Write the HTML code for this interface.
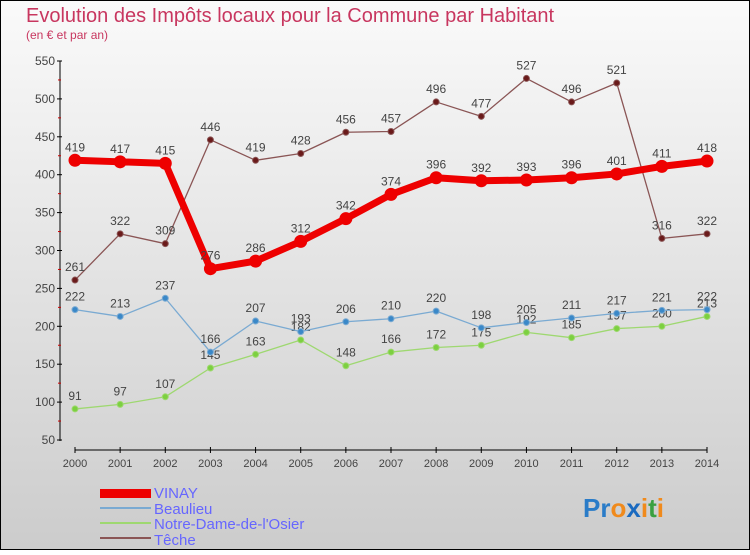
<!DOCTYPE html>
<html><head><meta charset="utf-8"><style>
body{margin:0;width:750px;height:550px;overflow:hidden;font-family:"Liberation Sans",sans-serif}
</style></head><body>
<svg id="chart" width="750" height="550" xmlns="http://www.w3.org/2000/svg">
<defs><linearGradient id="bg" x1="0" y1="0" x2="0" y2="1"><stop offset="0" stop-color="#fafafa"/><stop offset="1" stop-color="#cccccc"/></linearGradient></defs>
<rect x="0.5" y="0.5" width="749" height="549" fill="url(#bg)" stroke="#000"/>
<text x="26" y="22" font-size="20" fill="#c8365f">Evolution des Impôts locaux pour la Commune par Habitant</text>
<text x="26" y="39" font-size="12" fill="#c8365f">(en € et par an)</text>
<g id="axes"></g><g id="series"></g>
<g font-size="15" fill="#6666ff">
<rect x="100" y="489" width="51" height="9" fill="#e00"/>
<text x="154" y="498">VINAY</text>
<line x1="100" y1="508" x2="151" y2="508" stroke="#7aaad2" stroke-width="2"/>
<text x="154" y="514">Beaulieu</text>
<line x1="100" y1="523" x2="151" y2="523" stroke="#9ed870" stroke-width="2"/>
<text x="154" y="529">Notre-Dame-de-l'Osier</text>
<line x1="100" y1="538" x2="151" y2="538" stroke="#8a5555" stroke-width="2"/>
<text x="154" y="545">Têche</text>
</g>
<text x="583" y="517" font-size="26" font-weight="bold"><tspan fill="#2a7cc8">Pr</tspan><tspan fill="#f08a1c">o</tspan><tspan fill="#1a6ac0">x</tspan><tspan fill="#f08a1c">i</tspan><tspan fill="#3aa040">t</tspan><tspan fill="#f08a1c">i</tspan></text>
</svg>
<script>
const years=[2000,2001,2002,2003,2004,2005,2006,2007,2008,2009,2010,2011,2012,2013,2014];
const yTicks=[50,100,150,200,250,300,350,400,450,500,550];
const vinay=[419,417,415,276,286,312,342,374,396,392,393,396,401,411,418];
const beaulieu=[222,213,237,166,207,193,206,210,220,198,205,211,217,221,222];
const notreDame=[91,97,107,145,163,182,148,166,172,175,192,185,197,200,213];
const teche=[261,322,309,446,419,428,456,457,496,477,527,496,521,316,322];
const NS="http://www.w3.org/2000/svg";
const x=i=>75+i*(707-75)/(years.length-1);
const y=v=>440-(v-50)*(440-61)/500;
function mk(t,a,p){const e=document.createElementNS(NS,t);for(const k in a)e.setAttribute(k,a[k]);p.appendChild(e);return e;}
const ax=document.getElementById('axes');
let e=mk('line',{x1:60,y1:61,x2:60,y2:441,stroke:'#000'},ax);


e=mk('line',{x1:75,y1:450,x2:707,y2:450,stroke:'#000'},ax);


yTicks.forEach((v,i)=>{
 mk('line',{x1:57,y1:y(v),x2:62,y2:y(v),stroke:'#000'},ax);
 if(i<yTicks.length-1) mk('line',{x1:58,y1:y(v+25),x2:61,y2:y(v+25),stroke:'#c00'},ax);
 const t=mk('text',{x:55,y:y(v)+4,'text-anchor':'end','font-size':12,fill:'#444'},ax);t.textContent=v;
 
 
});
years.forEach((yr,i)=>{
 mk('line',{x1:x(i),y1:447,x2:x(i),y2:453,stroke:'#000'},ax);
 const t=mk('text',{x:x(i),y:467,'text-anchor':'middle','font-size':11,fill:'#444'},ax);t.textContent=yr;
 
 
});
const sg=document.getElementById('series');
function series(d,name,col,w,r,dot,lab){
 const g=mk('g',{},sg);
 
 
 const l=mk('polyline',{points:d.map((v,i)=>x(i)+','+y(v)).join(' '),fill:'none',stroke:col,'stroke-width':w,'stroke-linejoin':'round'},g);
 
 
 d.forEach((v,i)=>{
  const c=mk('circle',{cx:x(i),cy:y(v),r:r,fill:dot,stroke:col,'stroke-width':1},g);
  
  
  const t=mk('text',{x:x(i),y:y(v)-9,'text-anchor':'middle','font-size':12,fill:'#444'},g);t.textContent=v;
  
  
 });
}
series(teche,'teche','#8a5555',1.3,3,'#6a1a1a');
series(notreDame,'notre-dame','#9ed870',1.3,3,'#7cd040');
series(beaulieu,'beaulieu','#7aaad2',1.3,3,'#3a88c8');
series(vinay,'vinay','#ee0000',7,6,'#ee0000');
</script>
</body></html>
